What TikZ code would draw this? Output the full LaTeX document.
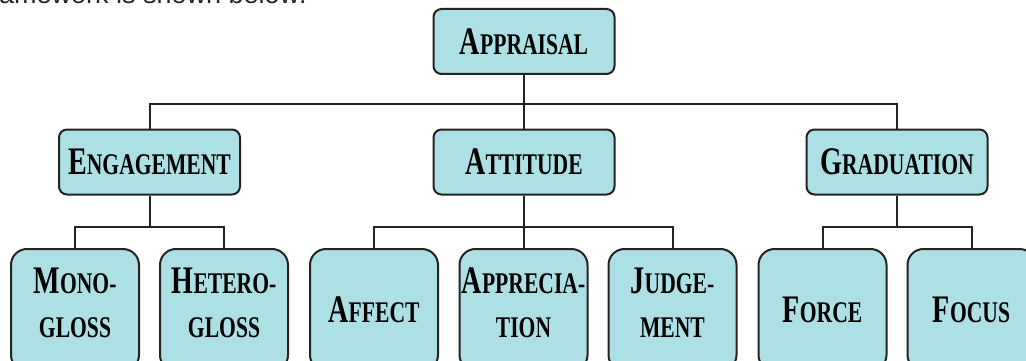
\documentclass[tikz,border=0pt]{standalone}
\usepackage{fontspec}
\setmainfont{Liberation Serif}
\newfontfamily\capsansfont{Liberation Sans}
\usepackage{graphicx}
\definecolor{boxfill}{RGB}{172,224,228}
\definecolor{boxline}{RGB}{35,35,35}
\newcommand\capword[2]{\scalebox{0.72}[1]{\bfseries{\fontsize{39}{39}\selectfont #1}{\fontsize{30}{30}\selectfont #2}}}
\newcommand\lowstrut{\rule[-15pt]{0pt}{15pt}}
\begin{document}
\begin{tikzpicture}[x=1pt,y=-1pt,
  topbox/.style={draw=boxline, line width=2pt, fill=boxfill, rounded corners=8pt,
    minimum width=181pt, minimum height=65pt, inner sep=0pt, align=center,
    font=\fontsize{30}{44}\selectfont},
  leafbox/.style={topbox, rounded corners=16pt, minimum width=128pt, minimum height=122pt},
  conn/.style={draw=boxline, line width=2pt}]
\useasboundingbox (0,0) rectangle (1026,361);
\node[anchor=base west, inner sep=0pt, text=black!85, font=\capsansfont\fontsize{27}{27}\selectfont] (intro) at (-1,4) {amework is shown below:};
\node[topbox] (app) at (524,41.5) {\capword{A}{PPRAISAL}};
\node[topbox] (eng) at (149.5,162) {\capword{E}{NGAGEMENT}};
\node[topbox] (att) at (524,162) {\capword{A}{TTITUDE}};
\node[topbox] (gra) at (897,162) {\capword{G}{RADUATION}};
\node[leafbox] (mono) at (75,310) {\capword{M}{ONO-}\\\capword{}{GLOSS}\lowstrut};
\node[leafbox] (het) at (224,310) {\capword{H}{ETERO-}\\\capword{}{GLOSS}\lowstrut};
\node[leafbox] (aff) at (374,310) {\capword{A}{FFECT}};
\node[leafbox] (apr) at (523.5,310) {\capword{A}{PPRECIA-}\\\capword{}{TION}\lowstrut};
\node[leafbox] (jud) at (672.5,310) {\capword{J}{UDGE-}\\\capword{}{MENT}\lowstrut};
\node[leafbox] (frc) at (822.5,310) {\capword{F}{ORCE}};
\node[leafbox] (foc) at (971.5,310) {\capword{F}{OCUS}};
\coordinate (b0) at (524,104);
\coordinate (b1) at (149.5,227);
\coordinate (b2) at (524,227);
\coordinate (b3) at (897,227);
\draw[conn] (app.south) -- (att.north);
\draw[conn] (eng.north) |- (b0) -| (gra.north);
\draw[conn] (eng.south) -- (b1);
\draw[conn] (mono.north) |- (b1) -| (het.north);
\draw[conn] (att.south) -- (att.south |- apr.north);
\draw[conn] (aff.north) |- (b2) -| (jud.north);
\draw[conn] (gra.south) -- (b3);
\draw[conn] (frc.north) |- (b3) -| (foc.north);
\end{tikzpicture}
\end{document}
